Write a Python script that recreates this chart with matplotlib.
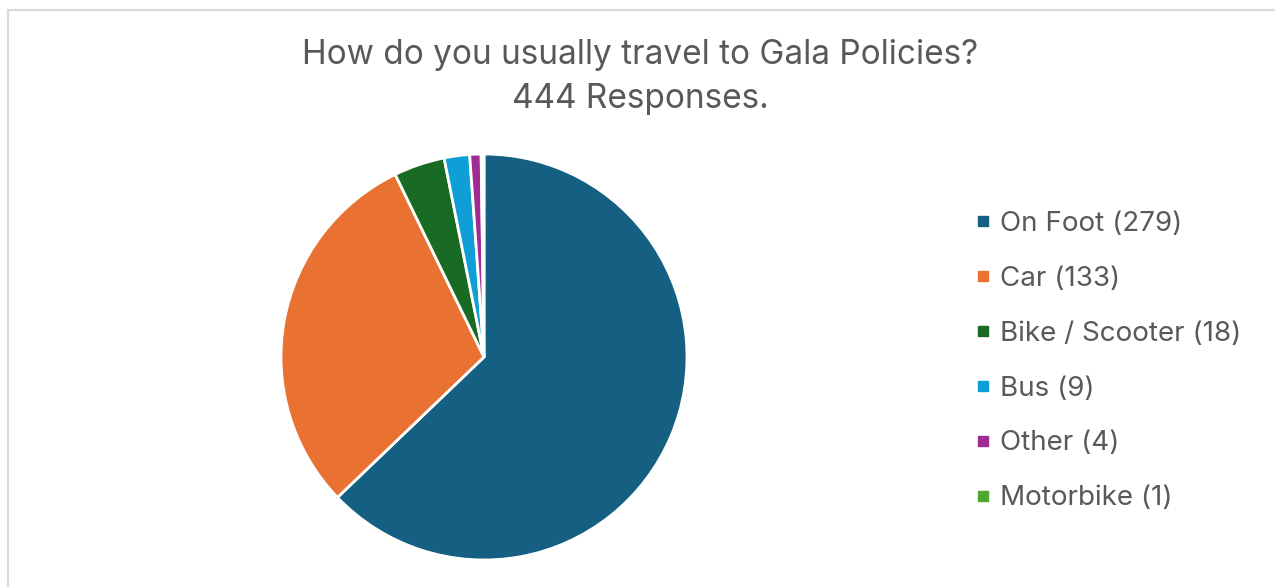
import matplotlib.pyplot as plt
from matplotlib.lines import Line2D
from matplotlib.patches import Rectangle

# data
labels = ["On Foot", "Car", "Bike / Scooter", "Bus", "Other", "Motorbike"]
counts = [279, 133, 18, 9, 4, 1]
colors = ["#156082", "#E97132", "#196B24", "#0F9ED5", "#A02B93", "#4EA72E"]
title = "How do you usually travel to Gala Policies?\n444 Responses."

W, H = 1275, 587
plt.rcParams['font.family'] = ['Inter', 'DejaVu Sans']
fig = plt.figure(figsize=(W / 100, H / 100), dpi=100)

# light grey chart frame (only top/left visible in the crop)
fig.patches.append(Rectangle((7.5 / W, -0.1), 1.2, 1 - 9.5 / H + 0.1,
                             transform=fig.transFigure, fill=False,
                             edgecolor="#d9d9d9", linewidth=1.5))

# pie centred at (484, 357) px, radius ~203 px
cx, cy, r = 484, 357, 203
ax = fig.add_axes([(cx - r) / W, (H - cy - r) / H, 2 * r / W, 2 * r / H])
ax.pie(counts, colors=colors, startangle=90, counterclock=False, radius=1,
       wedgeprops=dict(edgecolor="white", linewidth=2))
ax.set_xlim(-1.0, 1.0); ax.set_ylim(-1.0, 1.0)
ax.set_aspect('equal')
ax.axis('off')

fig.text(640 / W, 1 - 77 / H, title, ha='center', va='center',
         fontsize=24, color="#595959", linespacing=1.5)

handles = [Line2D([], [], marker='s', linestyle='none', markersize=7,
                  markerfacecolor=c, markeredgecolor=c) for c in colors]
leg_labels = [f"{l} ({n})" for l, n in zip(labels, counts)]
fig.legend(handles, leg_labels, loc='upper left',
           bbox_to_anchor=(962 / W, 1 - 197 / H), frameon=False,
           fontsize=20, labelcolor="#595959", handlelength=0.5,
           handletextpad=0.35, labelspacing=1.04, borderpad=0)

fig.savefig("out.png", dpi=100, facecolor="white")
